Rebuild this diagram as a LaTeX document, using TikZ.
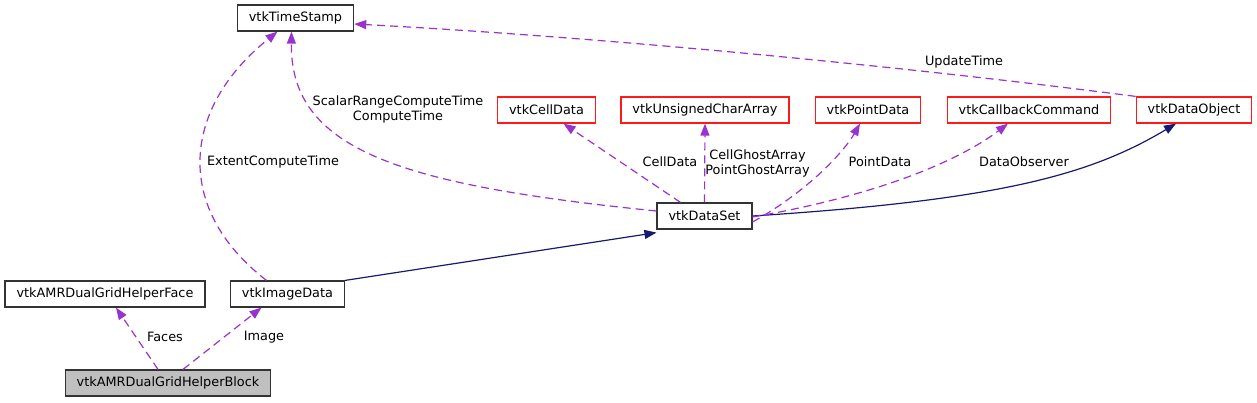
\documentclass[tikz,border=0pt]{standalone}
\usepackage{fontspec}
\setmainfont{DejaVu Sans}
\usetikzlibrary{arrows.meta}
\definecolor{dorchid}{HTML}{9A32CD}
\definecolor{mnavy}{HTML}{191970}
\begin{document}
\begin{tikzpicture}[
  x=1pt,
  y=-1pt,
  font=\fontsize{12.85}{15}\selectfont,
  cls/.style={draw=black!80, line width=1.2pt, fill=white, minimum height=26pt, inner xsep=11.5pt, inner ysep=0pt},
  undoc/.style={cls, draw=red!90!white},
  cur/.style={cls, fill=black!25},
  uses/.style={draw=dorchid, line width=1.2pt, dash pattern=on 8pt off 5pt, -{Triangle[length=12pt,width=9pt]}},
  inherit/.style={draw=mnavy, line width=1.2pt, -{Triangle[length=12pt,width=9pt]}},
  lbl/.style={align=center, inner sep=0pt}
]
\useasboundingbox (0,0) rectangle (1257,403);

% classes
\node[cls] (ts) at (295.5,18) {vtkTimeStamp};
\node[undoc] (cd) at (546.5,110) {vtkCellData};
\node[undoc] (uca) at (705,110) {vtkUnsignedCharArray};
\node[undoc] (pd) at (868,110) {vtkPointData};
\node[undoc] (cbc) at (1029,110) {vtkCallbackCommand};
\node[undoc] (dobj) at (1194,110) {vtkDataObject};
\node[cls] (ds) at (704.5,216) {vtkDataSet};
\node[cls] (face) at (105,294) {vtkAMRDualGridHelperFace};
\node[cls] (img) at (287.5,294) {vtkImageData};
\node[cur] (block) at (168,383) {vtkAMRDualGridHelperBlock};

% inheritance
\draw[inherit] (img.north east) -- ([yshift=-3pt]ds.south west);
\draw[inherit] (ds.east) .. controls (1000,200) and (1090,175) .. ([xshift=-18pt]dobj.south);

% members
\draw[uses] ([xshift=-10pt]block.north) -- ([xshift=11pt]face.south);
\draw[uses] ([xshift=15pt]block.north) -- ([xshift=-26pt]img.south);
\draw[uses] ([xshift=-21pt]img.north) .. controls (175,210) and (180,110) .. ([xshift=-18pt]ts.south);
\draw[uses] ([yshift=5pt]ds.west) .. controls (400,185) and (290,150) .. ([xshift=-4pt]ts.south);
\draw[uses] ([xshift=-24pt]ds.north) -- ([xshift=17pt]cd.south);
\draw[uses] (ds.north) -- (uca.south);
\draw[uses] ([yshift=-6pt]ds.east) .. controls (810,190) and (845,150) .. ([xshift=-8pt]pd.south);
\draw[uses] ([yshift=-1pt]ds.east) .. controls (880,195) and (960,160) .. ([xshift=-21pt]cbc.south);
\draw[uses] (dobj.north west) .. controls (900,66) and (600,37) .. ([yshift=-6pt]ts.east);

% labels
\node[lbl] (lfaces) at (165,337) {Faces};
\node[lbl] (limage) at (264,337) {Image};
\node[lbl] (lextent) at (273,162) {ExtentComputeTime};
\node[lbl] (lscalar) at (398,109.5) {ScalarRangeComputeTime\\ComputeTime};
\node[lbl] (lcell) at (670,162) {CellData};
\node[lbl] (lghost) at (757.5,163) {CellGhostArray\\PointGhostArray};
\node[lbl] (lpoint) at (880,162) {PointData};
\node[lbl] (lobs) at (1024,162) {DataObserver};
\node[lbl] (lupdate) at (964,62) {UpdateTime};
\end{tikzpicture}
\end{document}
